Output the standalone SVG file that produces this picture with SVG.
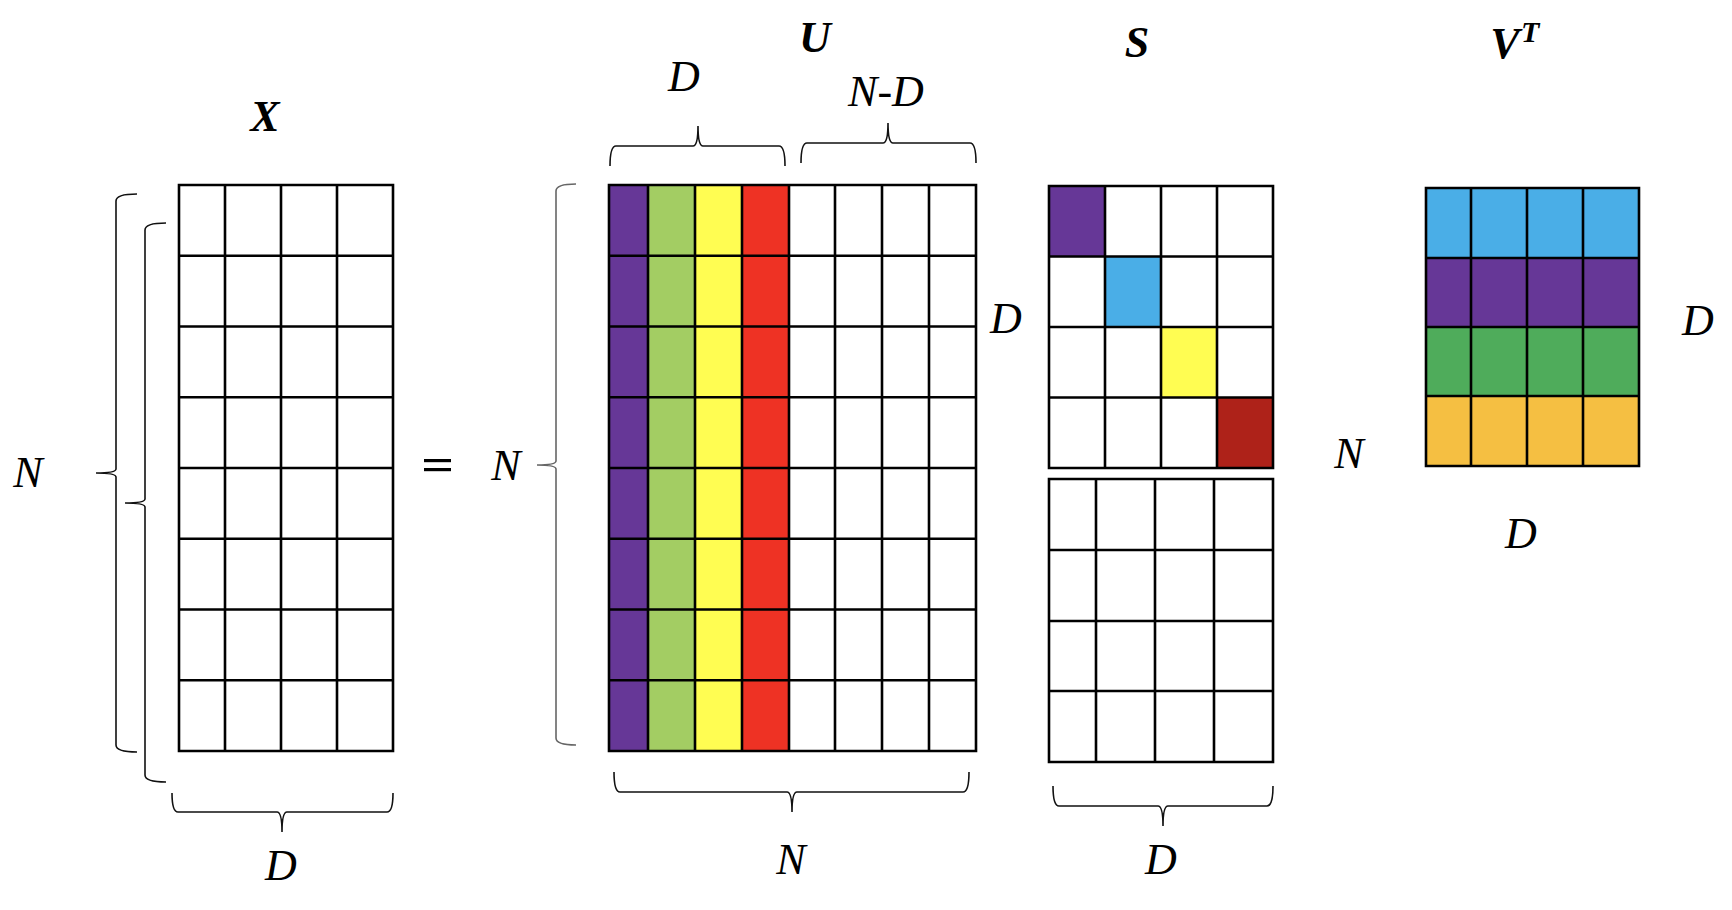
<svg xmlns="http://www.w3.org/2000/svg" width="1732" height="910" viewBox="0 0 1732 910">
<style>
.grid{fill:none;stroke:#000;stroke-width:2.6;stroke-linecap:square}
.brace{fill:none;stroke:#111;stroke-width:1.6}
.braceg{fill:none;stroke:#666;stroke-width:1.6}
.lbl{font-family:"Liberation Serif",serif;font-style:italic;font-size:44px;fill:#000;text-anchor:middle}
.ttl{font-family:"Liberation Serif",serif;font-style:italic;font-weight:bold;font-size:44px;fill:#000;text-anchor:middle}
.pu{fill:#663797}.lg{fill:#A3CD63}.ye{fill:#FFFD52}.rd{fill:#EE3224}
.bl{fill:#4AAEE7}.dr{fill:#AE2219}.gr{fill:#4FAC5B}.or{fill:#F5BF42}
</style>
<rect width="1732" height="910" fill="#fff"/>

<g id="matrix-X">
<text class="ttl" x="265" y="131">X</text>
<path class="grid" d="M179,185H393M179,255.75H393M179,326.5H393M179,397.25H393M179,468H393M179,538.75H393M179,609.5H393M179,680.25H393M179,751H393M179,185V751M225,185V751M281,185V751M337,185V751M393,185V751"/>
</g>

<g id="equals">
<rect x="424" y="459" width="27" height="3.2" fill="#000"/>
<rect x="424" y="468" width="27" height="3.2" fill="#000"/>
</g>

<g id="matrix-U">
<text class="ttl" x="815" y="52">U</text>
<rect class="pu" x="609" y="185" width="39" height="566"/>
<rect class="lg" x="648" y="185" width="47" height="566"/>
<rect class="ye" x="695" y="185" width="47" height="566"/>
<rect class="rd" x="742" y="185" width="47" height="566"/>
<path class="grid" d="M609,185H976M609,255.75H976M609,326.5H976M609,397.25H976M609,468H976M609,538.75H976M609,609.5H976M609,680.25H976M609,751H976M609,185V751M648,185V751M695,185V751M742,185V751M789,185V751M835,185V751M882,185V751M929,185V751M976,185V751"/>
</g>

<g id="matrix-S">
<text class="ttl" x="1137" y="57">S</text>
<rect class="pu" x="1049" y="186" width="56" height="70.5"/>
<rect class="bl" x="1105" y="256.5" width="56" height="70.5"/>
<rect class="ye" x="1161" y="327" width="56" height="70.5"/>
<rect class="dr" x="1217" y="397.5" width="56" height="70.5"/>
<path class="grid" d="M1049,186H1273M1049,256.5H1273M1049,327H1273M1049,397.5H1273M1049,468H1273M1049,186V468M1105,186V468M1161,186V468M1217,186V468M1273,186V468"/>
<path class="grid" d="M1049,479H1273M1049,550H1273M1049,621H1273M1049,691H1273M1049,762H1273M1049,479V762M1096,479V762M1155,479V762M1214,479V762M1273,479V762"/>
</g>

<g id="matrix-VT">
<text class="ttl" x="1505" y="58">V</text>
<text font-family="Liberation Serif, serif" font-style="italic" font-weight="bold" font-size="30" x="1521" y="42">T</text>
<rect class="bl" x="1426" y="188" width="213" height="70"/>
<rect class="pu" x="1426" y="258" width="213" height="69"/>
<rect class="gr" x="1426" y="327" width="213" height="69"/>
<rect class="or" x="1426" y="396" width="213" height="70"/>
<path class="grid" d="M1426,188H1639M1426,258H1639M1426,327H1639M1426,396H1639M1426,466H1639M1426,188V466M1471,188V466M1527,188V466M1583,188V466M1639,188V466"/>
</g>

<g id="connectors">
<path class="brace" d="M137,194Q116,194 116,201L116,469Q116,473 96,473Q116,473 116,477L116,745Q116,752 137,752"/>
<path class="brace" d="M166,223Q145,223 145,230L145,499Q145,503 125,503Q145,503 145,507L145,775Q145,782 166,782"/>
<path class="brace" d="M172,793Q172,812 178,812L277,812Q282,812 282,832Q282,812 287,812L387,812Q393,812 393,793"/>
<path class="braceg" d="M576,184Q556,184 556,191L556,461Q556,465 537,465Q556,465 556,469L556,738Q556,745 576,745"/>
<path class="brace" d="M610,166Q610,146 616,146L693,146Q698,146 698,126Q698,146 703,146L779,146Q785,146 785,166"/>
<path class="brace" d="M801,163Q801,143 807,143L883,143Q888,143 888,123Q888,143 893,143L970,143Q976,143 976,163"/>
<path class="brace" d="M614,772Q614,792 620,792L787,792Q792,792 792,812Q792,792 797,792L963,792Q969,792 969,772"/>
<path class="brace" d="M1053,786Q1053,806 1059,806L1158,806Q1163,806 1163,826Q1163,806 1168,806L1267,806Q1273,806 1273,786"/>
</g>

<g id="labels">
<text class="lbl" x="28" y="487">N</text>
<text class="lbl" x="281" y="880">D</text>
<text class="lbl" x="506" y="480">N</text>
<text class="lbl" x="684" y="91">D</text>
<text class="lbl" x="886" y="106">N-D</text>
<text class="lbl" x="791" y="874">N</text>
<text class="lbl" x="1006" y="333">D</text>
<text class="lbl" x="1349" y="468">N</text>
<text class="lbl" x="1161" y="874">D</text>
<text class="lbl" x="1698" y="335">D</text>
<text class="lbl" x="1521" y="548">D</text>
</g>
</svg>
